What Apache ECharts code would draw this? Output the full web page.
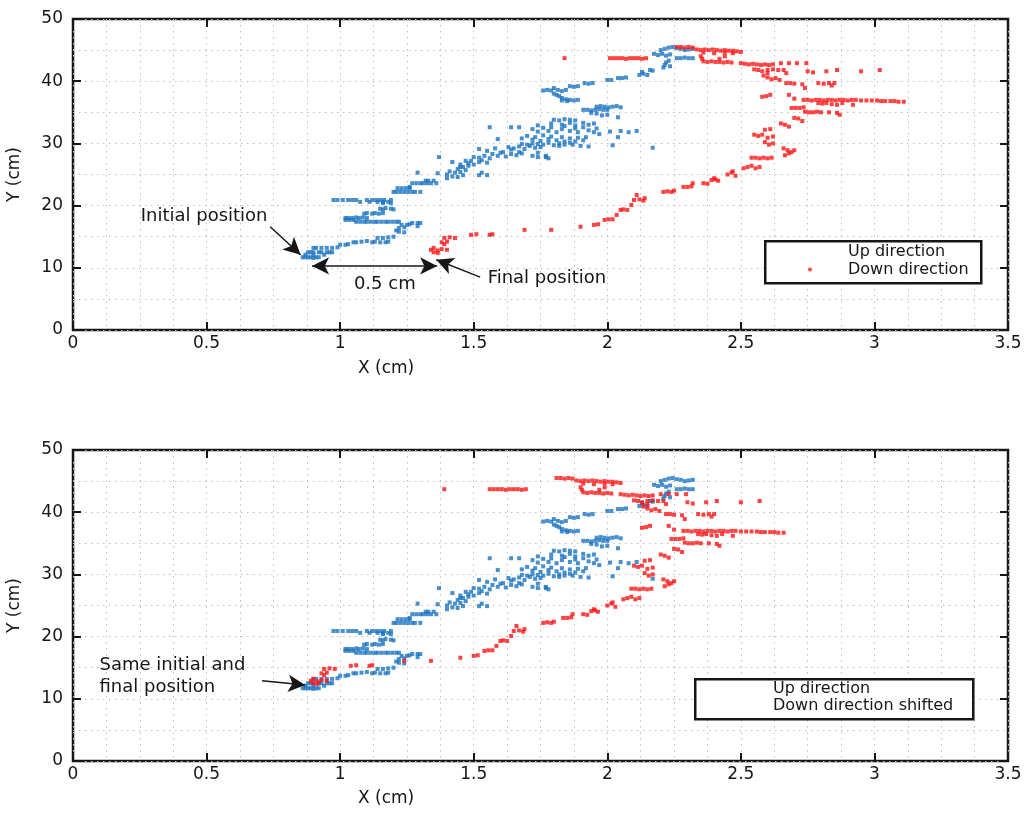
<!DOCTYPE html>
<html>
<head>
<meta charset="utf-8">
<script src="https://cdn.jsdelivr.net/npm/echarts@6/dist/echarts.min.js"></script>
<style>
  html, body { margin: 0; padding: 0; background: #fff; }
  #chart { width: 1027px; height: 813px; }
</style>
</head>
<body>
<div id="chart"></div>
<script>
// Axis ticks (cm)
const xTicks = [0, 0.5, 1, 1.5, 2, 2.5, 3, 3.5];
const yTicks = [0, 10, 20, 30, 40, 50];

// Tracked positions while moving upward, [X cm, Y cm]
const upDirection = [
  [0.86,11.7],[0.87,11.7],[0.88,11.7],[0.89,11.7],[0.90,11.6],[0.91,11.7],[0.92,11.7],
  [0.87,12.1],[0.90,12.1],[0.94,12.1],
  [0.88,12.5],[0.89,12.5],[0.90,12.5],[0.92,12.5],[0.93,12.5],[0.95,12.5],[0.96,12.5],[0.97,12.5],
  [0.90,13.2],[0.91,13.2],[0.93,13.2],[0.95,13.2],[0.97,13.2],[0.99,13.3],
  [1.00,13.7],[1.02,13.7],[1.03,13.8],
  [1.05,14.1],[1.06,14.1],[1.08,14.2],[1.10,14.3],[1.12,14.1],[1.13,14.2],[1.15,14.1],[1.17,14.1],[1.18,14.2],
  [1.14,14.8],[1.16,14.8],[1.18,14.9],[1.20,15.0],
  [1.21,16.0],[1.22,16.4],[1.23,16.9],[1.24,16.5],[1.25,16.9],[1.26,17.0],[1.27,17.2],[1.29,17.2],[1.30,17.2],
  [1.22,15.8],[1.24,15.7],[1.29,16.7],
  [1.06,17.4],[1.075,17.4],[1.09,17.4],[1.10,17.4],[1.115,17.4],[1.13,17.4],[1.14,17.4],[1.155,17.4],
  [1.17,17.4],[1.18,17.4],[1.195,17.4],[1.21,17.4],[1.22,17.4],
  [1.02,18.0],[1.03,18.0],[1.045,18.0],[1.06,18.1],[1.07,18.0],[1.085,18.1],[1.10,18.0],
  [1.02,17.7],[1.035,17.7],[1.05,17.7],
  [1.09,18.7],[1.10,18.8],[1.12,18.7],[1.13,18.8],[1.145,18.7],[1.16,18.8],
  [1.15,19.5],[1.16,19.4],[1.17,19.6],[1.19,19.5],[1.20,19.4],
  [1.16,20.4],[1.19,20.4],
  [0.975,20.9],[0.99,20.9],[1.01,20.9],[1.03,20.9],[1.045,20.9],[1.06,20.9],[1.075,20.6],[1.11,20.6],
  [1.10,20.9],[1.12,20.9],[1.135,20.9],[1.15,20.9],[1.165,20.9],[1.19,20.9],
  [1.14,20.6],[1.16,20.6],[1.18,20.6],
  [1.20,22.2],[1.21,22.2],[1.225,22.2],[1.24,22.2],[1.255,22.2],[1.27,22.2],[1.28,22.2],[1.30,22.2],
  [1.215,22.8],[1.23,22.8],[1.245,22.8],[1.26,22.8],[1.26,23.0],
  [1.27,23.6],[1.285,23.6],[1.30,23.6],[1.31,23.6],[1.325,23.6],[1.34,23.6],[1.36,23.6],
  [1.32,24.0],[1.33,24.0],[1.35,24.0],
  [1.29,25.3],[1.365,25.2],
  [1.40,25.0],[1.41,25.5],[1.42,24.7],[1.43,25.3],[1.44,25.9],[1.45,25.4],[1.46,24.9],[1.47,25.7],[1.40,24.4],[1.44,24.6],
  [1.45,26.2],[1.46,26.2],[1.48,26.4],
  [1.48,26.8],[1.49,27.2],[1.50,26.6],[1.52,27.0],[1.53,27.3],[1.55,26.9],
  [1.42,27.0],[1.45,26.6],[1.47,27.2],[1.37,27.8],
  [1.50,27.8],[1.52,27.7],[1.54,28.0],[1.56,27.6],
  [1.57,28.3],[1.59,28.0],[1.60,28.5],[1.62,27.9],[1.64,28.3],[1.66,28.1],[1.67,28.6],
  [1.52,29.1],[1.55,28.8],[1.58,29.2],[1.61,28.6],[1.64,29.0],[1.68,28.4],[1.72,28.0],
  [1.52,24.9],[1.55,24.9],[1.53,25.3],
  [1.63,29.4],[1.65,29.2],[1.67,29.5],[1.69,29.1],[1.71,29.6],[1.73,29.3],[1.75,29.4],
  [1.68,29.9],[1.70,29.8],[1.72,30.0],[1.76,29.8],[1.78,30.1],[1.80,29.7],[1.82,30.0],[1.84,29.8],[1.86,30.1],
  [1.74,27.8],[1.77,27.8],[1.74,28.5],[1.77,28.0],[1.78,27.6],
  [1.90,29.6],[1.93,29.5],[2.02,29.7],[2.17,29.3],
  [1.59,30.7],[1.56,32.6],[1.64,32.6],[1.67,32.6],[1.74,32.9],
  [1.68,30.8],[1.70,31.2],[1.72,30.6],[1.73,31.0],[1.75,30.4],[1.76,31.3],[1.78,30.7],[1.79,31.1],[1.81,30.5],
  [1.83,31.0],[1.84,30.3],[1.86,30.8],[1.88,30.3],[1.89,30.9],[1.91,30.5],[1.92,31.0],[1.74,29.9],[1.82,29.6],[1.87,29.8],
  [1.72,32.3],[1.74,31.9],[1.76,32.5],[1.78,32.0],[1.79,32.6],[1.81,31.8],[1.83,32.3],[1.84,32.8],
  [1.86,32.0],[1.88,32.4],[1.89,31.8],[1.91,32.6],[1.93,32.1],[1.95,31.8],[1.96,32.4],
  [1.97,31.5],[2.01,31.9],[2.05,32.0],[2.08,31.8],[2.11,32.0],[2.04,31.0],
  [1.79,33.2],[1.83,33.0],[1.86,33.3],[1.88,32.9],
  [1.80,33.8],[1.82,33.7],[1.84,33.9],[1.86,33.8],[1.88,33.7],
  [1.91,33.3],[1.93,33.0],[1.95,33.2],
  [1.94,34.9],[1.96,34.8],[1.98,34.5],[2.00,34.6],[2.04,34.2],
  [1.91,35.4],[1.925,35.4],[1.94,35.3],[1.955,35.4],[1.97,35.5],[1.985,35.4],[2.00,35.4],
  [1.96,35.9],[1.975,36.0],[1.99,35.9],[2.005,35.8],[2.02,35.9],[2.035,36.0],[2.05,35.8],
  [1.81,37.8],[1.82,37.6],[1.83,37.3],[1.845,37.1],[1.86,37.0],[1.875,36.9],[1.89,37.0],[1.83,36.9],[1.85,36.8],
  [1.76,38.5],[1.775,38.6],[1.79,38.5],[1.80,38.9],[1.815,38.6],[1.83,38.4],[1.845,38.6],[1.80,38.0],
  [1.86,39.2],[1.875,39.1],[1.89,39.2],
  [1.915,39.7],[1.93,39.6],[1.945,39.7],
  [2.00,40.2],[2.015,40.2],
  [2.04,40.5],[2.055,40.5],[2.07,40.6],
  [2.12,41.0],[2.135,41.2],[2.15,41.0],[2.13,41.5],
  [2.16,41.8],[2.17,41.7],
  [2.21,42.2],[2.215,42.6],[2.22,43.0],[2.23,43.3],[2.235,42.4],
  [2.26,43.7],[2.275,43.7],[2.29,43.8],[2.305,43.7],[2.32,43.7],
  [2.175,44.4],[2.19,44.2],[2.205,44.4],[2.22,44.1],[2.235,44.3],
  [2.20,45.0],[2.215,45.2],[2.23,45.4],[2.245,45.5],[2.26,45.3],[2.275,45.2],[2.29,45.0],[2.305,45.1],[2.32,45.2]
];

// Tracked positions while moving downward, [X cm, Y cm]
const downDirection = [
  [2.26,45.5],[2.275,45.5],[2.29,45.4],[2.305,45.5],[2.32,45.4],
  [2.335,45.1],[2.35,45.0],[2.365,45.1],[2.38,45.0],[2.395,45.1],[2.41,45.0],[2.425,44.9],[2.44,45.0],
  [2.455,44.9],[2.47,44.9],[2.485,44.8],
  [2.36,44.6],[2.40,44.5],[2.44,44.6],[2.47,44.5],[2.50,44.7],
  [2.35,44.0],[2.355,43.6],[2.36,43.2],[2.375,43.1],[2.39,43.2],[2.405,43.1],[2.42,43.1],[2.435,43.0],
  [2.45,43.1],[2.465,43.0],[2.42,43.6],[2.44,44.0],
  [1.84,43.7],
  [2.01,43.7],[2.025,43.7],[2.04,43.7],[2.055,43.7],[2.07,43.6],[2.085,43.7],[2.10,43.7],[2.115,43.7],[2.13,43.6],[2.145,43.7],
  [2.50,42.9],[2.515,42.8],[2.53,42.7],[2.545,42.8],[2.56,42.7],[2.575,42.6],[2.59,42.7],[2.605,42.6],[2.62,42.7],
  [2.65,42.9],[2.68,42.9],[2.71,42.9],[2.745,42.9],
  [2.55,41.9],[2.565,41.8],[2.58,41.6],[2.60,41.8],[2.62,41.9],[2.64,41.8],[2.66,41.8],
  [2.60,41.3],[2.67,41.3],[2.75,41.6],[2.77,41.4],[2.82,41.6],[2.86,41.8],[2.95,41.6],[3.02,41.8],
  [2.585,40.9],[2.60,40.6],[2.615,40.3],[2.63,40.5],[2.645,40.2],
  [2.67,39.7],[2.685,39.7],[2.70,39.6],[2.73,39.5],[2.79,39.7],[2.81,39.6],[2.83,39.7],[2.85,39.7],[2.84,39.3],
  [2.74,38.9],
  [2.58,37.5],[2.595,37.6],[2.61,37.8],[2.68,37.8],[2.70,37.2],
  [2.735,37.0],[2.75,37.0],[2.765,36.9],[2.78,37.0],[2.795,37.0],[2.81,36.9],[2.825,37.0],[2.84,37.0],
  [2.855,36.9],[2.87,37.0],[2.885,37.0],[2.90,36.9],[2.915,37.0],[2.93,37.0],[2.95,36.9],[2.97,36.9],
  [2.99,36.9],[3.01,36.9],[3.025,36.8],[3.04,36.8],[3.06,36.8],[3.075,36.8],[3.09,36.7],[3.11,36.7],
  [2.79,36.5],[2.805,36.4],[2.82,36.5],[2.84,36.3],[2.86,36.2],[2.88,36.5],[2.92,36.2],
  [2.69,35.7],[2.705,35.7],[2.72,35.7],[2.735,35.8],
  [2.74,35.1],[2.755,35.0],[2.77,35.0],[2.785,35.1],[2.80,35.0],[2.83,35.0],[2.86,34.9],[2.87,34.6],
  [2.70,34.1],[2.715,34.0],[2.73,33.6],
  [2.65,33.2],[2.665,33.0],[2.68,32.7],
  [2.59,32.2],[2.61,32.3],
  [2.55,31.4],[2.565,31.2],[2.58,31.4],[2.60,30.9],[2.62,31.1],
  [2.59,30.2],[2.605,29.8],[2.62,30.0],
  [2.66,29.2],[2.675,28.9],[2.69,28.6],[2.70,28.9],[2.68,28.4],[2.665,28.1],
  [2.54,27.7],[2.555,27.7],[2.57,27.6],[2.585,27.7],[2.60,27.6],[2.615,27.7],
  [2.51,26.0],[2.525,26.2],[2.54,26.4],[2.555,26.0],[2.57,26.2],
  [2.45,25.0],[2.465,25.3],[2.48,24.8],[2.47,25.5],
  [2.40,24.4],[2.39,24.1],[2.405,24.2],[2.415,24.0],
  [2.36,23.6],[2.375,23.5],[2.32,23.6],
  [2.285,23.0],[2.30,23.0],[2.315,23.1],
  [2.21,22.2],[2.225,22.3],[2.24,22.2],[2.25,22.4],
  [2.11,21.7],[2.10,20.9],[2.12,21.0],[2.135,20.8],[2.14,21.2],
  [2.09,20.1],
  [2.05,19.3],[2.06,19.4],[2.075,19.3],
  [2.035,18.5],
  [1.99,17.7],[2.005,17.8],[2.02,17.8],
  [1.95,16.9],[1.965,17.0],[1.90,16.6],
  [1.79,16.1],[1.69,16.1],
  [1.49,15.3],[1.51,15.4],[1.56,15.3],[1.57,15.4],
  [1.39,14.8],[1.41,14.9],[1.43,14.8],
  [1.38,14.1],[1.40,14.2],[1.39,13.8],
  [1.34,12.9],[1.35,13.2],[1.365,12.8],[1.38,13.0],[1.40,12.9],[1.35,12.5],[1.365,12.4]
];

// Horizontal offset (cm) that brings the downward track back onto the start point
const downShift = 0.45;
const downShifted = downDirection.map(([x, y]) => [Math.round((x - downShift) * 1000) / 1000, y]);

const BLUE = '#1a73c2';
const RED = '#ff1414';
const INK = '#161616';
const FONT = '"DejaVu Sans", Verdana, sans-serif';
const dotted = { color: '#bdbdbd', width: 1, type: [1.5, 4.5] };

const panels = [
  { left: 73, top: 19, width: 935, height: 311 },
  { left: 73, top: 450, width: 935, height: 311 }
];

const tickStyle = { show: true, inside: true, length: 8, lineStyle: { color: INK, width: 2 } };

function xAxesFor(gi) {
  const base = {
    gridIndex: gi, type: 'value',
    min: xTicks[0], max: xTicks[xTicks.length - 1], interval: xTicks[1] - xTicks[0],
    axisLine: { show: false, onZero: false },
    axisTick: tickStyle
  };
  return [
    Object.assign({}, base, {
      position: 'bottom',
      axisLabel: { show: true, margin: 5, fontSize: 17, color: INK, fontFamily: FONT },
      splitLine: { show: true, lineStyle: dotted },
      minorTick: { show: false, splitNumber: 4 },
      minorSplitLine: { show: true, lineStyle: dotted }
    }),
    Object.assign({}, base, {
      position: 'top',
      axisLabel: { show: false },
      splitLine: { show: false }
    })
  ];
}

function yAxesFor(gi) {
  const base = {
    gridIndex: gi, type: 'value',
    min: yTicks[0], max: yTicks[yTicks.length - 1], interval: yTicks[1] - yTicks[0],
    axisLine: { show: false, onZero: false },
    axisTick: tickStyle
  };
  return [
    Object.assign({}, base, {
      position: 'left',
      name: 'Y (cm)', nameLocation: 'middle', nameGap: 50,
      nameTextStyle: { fontSize: 17, color: INK, fontFamily: FONT },
      axisLabel: { show: true, margin: 10, fontSize: 17, color: INK, fontFamily: FONT },
      splitLine: { show: true, lineStyle: dotted },
      minorTick: { show: false, splitNumber: 2 },
      minorSplitLine: { show: true, lineStyle: dotted }
    }),
    Object.assign({}, base, {
      position: 'right',
      axisLabel: { show: false },
      splitLine: { show: false }
    })
  ];
}

const arrowLine = { color: INK, width: 1.5, type: 'solid' };
const noteLabel = {
  show: true, position: [0, 0], verticalAlign: 'middle',
  fontSize: 18, color: INK, fontFamily: FONT, lineHeight: 22
};
function note(coord, text, align) {
  return {
    coord: coord, symbol: 'circle', symbolSize: 1,
    itemStyle: { color: 'rgba(0,0,0,0)' },
    label: Object.assign({}, noteLabel, { formatter: text, align: align })
  };
}

function scatter(name, data, color, xi, yi, extra) {
  return Object.assign({
    name: name, type: 'scatter', data: data,
    xAxisIndex: xi, yAxisIndex: yi,
    symbol: 'rect', symbolSize: 4,
    itemStyle: { color: color },
    silent: true, animation: false
  }, extra || {});
}

const legendText = {
  fontSize: 16, color: INK, fontFamily: FONT, lineHeight: 17,
  rich: { gap: { width: 31 } }
};

const option = {
  backgroundColor: '#fff',
  animation: false,
  grid: panels.map(p => Object.assign({
    show: true, borderColor: INK, borderWidth: 2.5, backgroundColor: '#fff',
    containLabel: false, outerBoundsMode: 'none'
  }, p)),
  xAxis: xAxesFor(0).concat(xAxesFor(1)),
  yAxis: yAxesFor(0).concat(yAxesFor(1)),
  legend: [
    {
      left: 808, top: 243, orient: 'vertical', padding: 0, itemGap: 1,
      itemWidth: 4, itemHeight: 4, icon: 'circle', selectedMode: false,
      data: [{ name: 'Up direction', itemStyle: { opacity: 0 } }, { name: 'Down direction' }],
      formatter: n => '{gap| }' + n,
      textStyle: legendText
    },
    {
      left: 733, top: 680.5, orient: 'vertical', padding: 0, itemGap: 0,
      itemWidth: 4, itemHeight: 4, icon: 'circle', selectedMode: false,
      data: [{ name: 'Up direction', itemStyle: { opacity: 0 } }, { name: 'Down direction shifted', itemStyle: { opacity: 0 } }],
      formatter: n => '{gap| }' + n,
      textStyle: legendText
    }
  ],
  graphic: [
    { type: 'rect', left: 764, top: 240, z: 3, shape: { width: 216, height: 42 },
      style: { fill: '#fff', stroke: INK, lineWidth: 2.5 } },
    { type: 'rect', left: 694, top: 678, z: 3, shape: { width: 278, height: 40 },
      style: { fill: '#fff', stroke: INK, lineWidth: 2.5 } },
    { type: 'text', left: 358, top: 360, z: 5,
      style: { text: 'X (cm)', fontSize: 17, fontFamily: FONT, fill: INK } },
    { type: 'text', left: 358, top: 790, z: 5,
      style: { text: 'X (cm)', fontSize: 17, fontFamily: FONT, fill: INK } }
  ],
  series: [
    scatter('Up direction', upDirection, BLUE, 0, 0, {
      markLine: {
        silent: true, animation: false, symbol: ['none', 'arrow'], symbolSize: [13, 17],
        label: { show: false }, lineStyle: arrowLine,
        data: [
          [{ coord: [0.738, 16.6] }, { coord: [0.852, 12.1] }],
          [{ coord: [0.895, 10.3], symbol: 'arrow' }, { coord: [1.363, 10.3], symbol: 'arrow' }],
          [{ coord: [1.524, 8.5] }, { coord: [1.36, 11.3] }]
        ]
      },
      markPoint: {
        silent: true, animation: false,
        data: [
          note([0.73, 18.2], 'Initial position', 'right'),
          note([1.169, 7.2], '0.5 cm', 'center'),
          note([1.554, 8.2], 'Final position', 'left')
        ]
      }
    }),
    scatter('Down direction', downDirection, RED, 0, 0),
    scatter('Up direction', upDirection, BLUE, 2, 2, {
      markLine: {
        silent: true, animation: false, symbol: ['none', 'arrow'], symbolSize: [13, 17],
        label: { show: false }, lineStyle: arrowLine,
        data: [
          [{ coord: [0.708, 12.9] }, { coord: [0.869, 12.2] }]
        ]
      },
      markPoint: {
        silent: true, animation: false,
        data: [
          note([0.101, 13.5], 'Same initial and\nfinal position', 'left')
        ]
      }
    }),
    scatter('Down direction shifted', downShifted, RED, 2, 2)
  ]
};

const chart = echarts.init(document.getElementById('chart'), null, { renderer: 'canvas' });
chart.setOption(option);
</script>
</body>
</html>
